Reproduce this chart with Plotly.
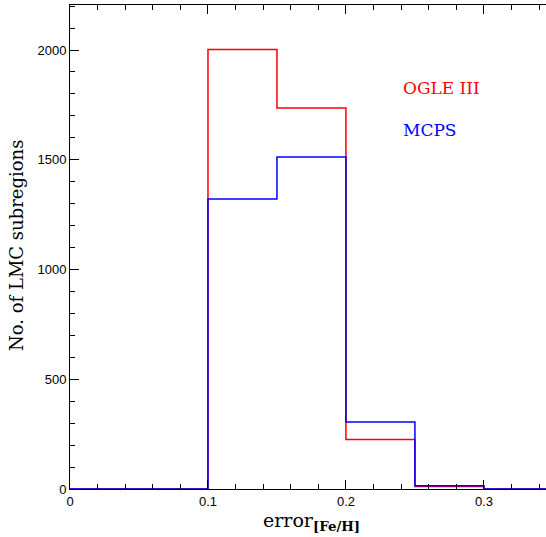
import plotly.graph_objects as go

bin_edges = [0.0, 0.05, 0.10, 0.15, 0.20, 0.25, 0.30, 0.35]
ogle_counts = [0, 0, 2002, 1736, 226, 11, 0]
mcps_counts = [0, 0, 1321, 1512, 305, 15, 0]

def step(counts):
    return counts + [counts[-1]]

fig = go.Figure()
fig.add_trace(go.Scatter(x=bin_edges, y=step(ogle_counts), mode="lines",
                         line=dict(color="#ff0000", width=1.5, shape="hv"),
                         name="OGLE III", showlegend=False))
fig.add_trace(go.Scatter(x=bin_edges, y=step(mcps_counts), mode="lines",
                         line=dict(color="#0000ff", width=1.5, shape="hv"),
                         name="MCPS", showlegend=False))

serif = "DejaVu Serif, Liberation Serif, serif"
sans = "Liberation Sans, Arial, sans-serif"

L, R, T, B = 70, 0, 5, 48
W, H = 546, 537
pw, ph = W - L - R, H - T - B

def px_x(x):
    return (x - L) / pw

def px_y(y):
    return (H - B - y) / ph

fig.add_annotation(x=px_x(401), y=px_y(88), xref="paper", yref="paper", text="OGLE III",
                   showarrow=False, xanchor="left", yanchor="middle",
                   font=dict(family=serif, size=17, color="#ff0000"))
fig.add_annotation(x=px_x(401), y=px_y(130), xref="paper", yref="paper", text="MCPS",
                   showarrow=False, xanchor="left", yanchor="middle",
                   font=dict(family=serif, size=17, color="#0000ff"))
fig.add_annotation(x=px_x(261), y=px_y(521), xref="paper", yref="paper",
                   text="error<sub><b>[Fe/H]</b></sub>", showarrow=False,
                   xanchor="left", yanchor="middle",
                   font=dict(family=serif, size=19, color="black"))
fig.add_annotation(x=px_x(17), y=px_y(246), xref="paper", yref="paper",
                   text="No. of LMC subregions", showarrow=False, textangle=-90,
                   xanchor="center", yanchor="middle",
                   font=dict(family=serif, size=18, color="black"))

axis_common = dict(showgrid=False, zeroline=False, showline=True, linecolor="black",
                   linewidth=1, ticks="inside", ticklen=9, automargin=False,
                   tickcolor="black", tickwidth=1, tickmode="array",
                   tickfont=dict(family=sans, size=13, color="black"))

x_minor = [0.02 * i for i in range(18)]
y_minor = [100 * i for i in range(23)]

fig.update_xaxes(range=[0, 0.345], tickvals=[0, 0.1, 0.2, 0.3], ticktext=["0", "0.1", "0.2", "0.3"],
                 mirror="allticks",
                 minor=dict(tickmode="array", tickvals=x_minor, ticks="inside", ticklen=5,
                            tickcolor="black", tickwidth=1, showgrid=False),
                 **axis_common)
fig.update_yaxes(range=[0, 2205], tickvals=[0, 500, 1000, 1500, 2000],
                 ticktext=["0", "500", "1000", "1500", "2000"], mirror=False,
                 minor=dict(tickmode="array", tickvals=y_minor, ticks="inside", ticklen=5,
                            tickcolor="black", tickwidth=1, showgrid=False),
                 **axis_common)

fig.update_layout(width=W, height=H, margin=dict(l=L, r=R, t=T, b=B),
                  plot_bgcolor="white", paper_bgcolor="white", showlegend=False)

fig.write_html("out.html", config={"displayModeBar": False},
               post_script="document.body.style.margin='0';document.body.style.overflow='hidden';")
